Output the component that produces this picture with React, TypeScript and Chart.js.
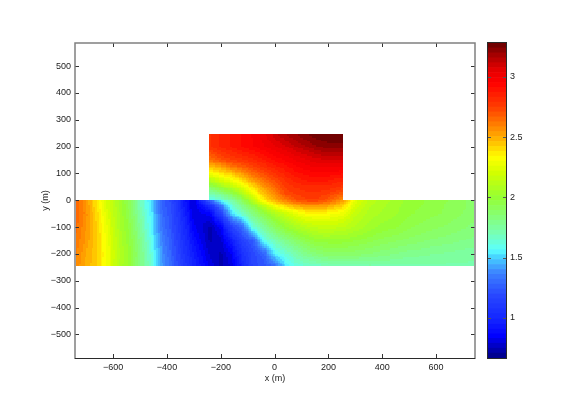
import React, { useEffect, useRef } from "react";
import { Chart, registerables } from "chart.js";

Chart.register(...registerables);

const xTicks = [-600, -400, -200, 0, 200, 400, 600];
const yTicks = [-500, -400, -300, -200, -100, 0, 100, 200, 300, 400, 500];
const barTicks = [1, 1.5, 2, 2.5, 3];

const xRange = [-742, 745];
const yRange = [-588, 586];
const valueRange = [0.668, 3.28];

const xsLower = [-740, -700, -660, -620, -580, -540, -500, -460, -420, -380, -340, -300, -240, -200, -160, -120, -80, -40, 0, 40, 80, 120, 160, 200, 250, 300, 350, 400, 450, 500, 550, 600, 650, 700, 740];
const ysLower = [0, -25, -50, -100, -150, -200, -245];
const lower0 = [2.66, 2.54, 2.37, 2.2, 2.05, 1.91, 1.69, 1.52, 1.28, 1.17, 0.95, 0.78, 1.28, 1.58, 1.72, 1.9, 2.12, 2.36, 2.5, 2.6, 2.7, 2.74, 2.74, 2.68, 2.55, 2.25, 2.12, 2.08, 2.04, 2.0, 1.98, 1.95, 1.93, 1.9, 1.88];
const lower25 = [2.67, 2.55, 2.38, 2.2, 2.06, 1.92, 1.7, 1.53, 1.28, 1.18, 0.97, 0.78, 1.0, 1.28, 1.62, 1.78, 1.93, 2.1, 2.27, 2.38, 2.46, 2.5, 2.5, 2.48, 2.4, 2.2, 2.1, 2.06, 2.03, 1.99, 1.97, 1.95, 1.92, 1.9, 1.88];
const lower50 = [2.67, 2.56, 2.4, 2.22, 2.07, 1.93, 1.73, 1.55, 1.3, 1.19, 1.0, 0.8, 0.85, 1.15, 1.5, 1.66, 1.82, 1.95, 2.07, 2.17, 2.26, 2.33, 2.33, 2.32, 2.28, 2.15, 2.08, 2.05, 2.02, 1.98, 1.96, 1.94, 1.92, 1.89, 1.87];
const lower100 = [2.65, 2.54, 2.42, 2.25, 2.08, 1.96, 1.76, 1.56, 1.33, 1.2, 1.04, 0.84, 0.74, 0.85, 1.15, 1.3, 1.63, 1.76, 1.9, 2.0, 2.07, 2.12, 2.15, 2.16, 2.14, 2.09, 2.04, 2.0, 1.98, 1.94, 1.92, 1.9, 1.88, 1.86, 1.84];
const lower150 = [2.62, 2.53, 2.43, 2.27, 2.1, 1.98, 1.8, 1.6, 1.37, 1.23, 1.06, 0.9, 0.74, 0.78, 0.95, 1.15, 1.25, 1.59, 1.7, 1.8, 1.88, 1.95, 2.0, 2.0, 2.0, 1.98, 1.95, 1.92, 1.9, 1.88, 1.86, 1.84, 1.83, 1.81, 1.8];
const lower200 = [2.6, 2.5, 2.43, 2.28, 2.11, 2.0, 1.82, 1.63, 1.4, 1.25, 1.09, 0.95, 0.78, 0.74, 0.84, 1.05, 1.18, 1.27, 1.55, 1.63, 1.72, 1.8, 1.85, 1.88, 1.88, 1.87, 1.85, 1.83, 1.81, 1.79, 1.78, 1.77, 1.76, 1.75, 1.74];
const lower250 = [2.58, 2.49, 2.42, 2.28, 2.1, 1.99, 1.81, 1.66, 1.42, 1.28, 1.12, 0.98, 0.82, 0.74, 0.8, 1.0, 1.17, 1.22, 1.3, 1.52, 1.62, 1.65, 1.67, 1.69, 1.7, 1.71, 1.72, 1.72, 1.72, 1.72, 1.72, 1.72, 1.72, 1.72, 1.72];
const lowerRows = [lower0, lower25, lower50, lower100, lower150, lower200, lower250];

const xsUpper = [-243, -200, -160, -120, -80, -40, 0, 40, 80, 120, 160, 200, 253];
const ysUpper = [245, 200, 150, 125, 100, 75, 50, 25, 0];
const upper250 = [2.78, 2.84, 2.88, 2.92, 2.96, 3.02, 3.1, 3.16, 3.2, 3.24, 3.27, 3.28, 3.28];
const upper200 = [2.78, 2.84, 2.88, 2.92, 2.95, 2.99, 3.03, 3.07, 3.12, 3.16, 3.2, 3.22, 3.22];
const upper150 = [2.62, 2.7, 2.75, 2.78, 2.82, 2.87, 2.92, 2.96, 3.0, 3.03, 3.06, 3.08, 3.08];
const upper125 = [2.45, 2.52, 2.62, 2.68, 2.74, 2.8, 2.86, 2.9, 2.95, 2.98, 3.0, 3.0, 3.0];
const upper100 = [2.3, 2.38, 2.44, 2.55, 2.65, 2.72, 2.79, 2.85, 2.9, 2.93, 2.94, 2.94, 2.92];
const upper75 = [2.1, 2.22, 2.3, 2.4, 2.54, 2.64, 2.72, 2.8, 2.85, 2.88, 2.88, 2.88, 2.84];
const upper50 = [1.9, 2.03, 2.14, 2.26, 2.4, 2.55, 2.66, 2.76, 2.8, 2.82, 2.82, 2.82, 2.78];
const upper25 = [1.7, 1.8, 1.92, 2.08, 2.28, 2.46, 2.58, 2.72, 2.76, 2.78, 2.78, 2.75, 2.68];
const upper0 = [1.56, 1.62, 1.74, 1.9, 2.12, 2.36, 2.5, 2.6, 2.7, 2.74, 2.74, 2.68, 2.55];
const upperRows = [upper250, upper200, upper150, upper125, upper100, upper75, upper50, upper25, upper0];

const cmapValues = [0.668, 0.85, 1.0, 1.18, 1.37, 1.5, 1.56, 1.7, 2.0, 2.2, 2.33, 2.5, 2.75, 2.95, 3.05, 3.17, 3.28];
const cmapColors = [
  [0, 0, 130], [0, 0, 255], [20, 40, 255], [40, 70, 255], [60, 130, 255], [70, 210, 255], [90, 255, 255], [120, 255, 180],
  [150, 255, 50], [210, 255, 0], [255, 255, 0], [255, 170, 0], [255, 60, 0], [255, 0, 0], [230, 0, 0], [170, 0, 0], [100, 0, 0],
];
const levels = 64;

function colorOf(v: number): string {
  const t = Math.max(0, Math.min(0.9999, (v - valueRange[0]) / (valueRange[1] - valueRange[0])));
  const q = valueRange[0] + ((Math.floor(t * levels) + 0.5) / levels) * (valueRange[1] - valueRange[0]);
  let i = 0;
  while (i < cmapValues.length - 2 && q > cmapValues[i + 1]) i++;
  const f = Math.max(0, Math.min(1, (q - cmapValues[i]) / (cmapValues[i + 1] - cmapValues[i])));
  const c = cmapColors[i].map((a, k) => Math.round(a + (cmapColors[i + 1][k] - a) * f));
  return `rgb(${c[0]},${c[1]},${c[2]})`;
}

function gridPoints(xs: number[], ys: number[], rows: number[][]) {
  return ys.flatMap((y, j) => xs.map((x, i) => ({ x, y, v: rows[j][i] })));
}

function shade(chart: any, xs: number[], ys: number[], rows: number[][]) {
  const { ctx, scales } = chart;
  const sx = scales.x;
  const sy = scales.y;
  for (let j = 0; j < ys.length - 1; j++) {
    for (let i = 0; i < xs.length - 1; i++) {
      const x0 = sx.getPixelForValue(xs[i]);
      const x1 = sx.getPixelForValue(xs[i + 1]);
      const y0 = sy.getPixelForValue(ys[j]);
      const y1 = sy.getPixelForValue(ys[j + 1]);
      const nx = Math.max(1, Math.ceil((x1 - x0) / 2));
      const ny = Math.max(1, Math.ceil((y1 - y0) / 2));
      for (let a = 0; a < nx; a++) {
        for (let b = 0; b < ny; b++) {
          const u = (a + 0.5) / nx;
          const w = (b + 0.5) / ny;
          const v =
            rows[j][i] * (1 - u) * (1 - w) + rows[j][i + 1] * u * (1 - w) + rows[j + 1][i] * (1 - u) * w + rows[j + 1][i + 1] * u * w;
          ctx.fillStyle = colorOf(v);
          const l = Math.round(x0 + ((x1 - x0) * a) / nx);
          const r = Math.round(x0 + ((x1 - x0) * (a + 1)) / nx);
          const t = Math.round(y0 + ((y1 - y0) * b) / ny);
          const e = Math.round(y0 + ((y1 - y0) * (b + 1)) / ny);
          ctx.fillRect(l, t, r - l, e - t);
        }
      }
    }
  }
}

const fieldPlugin = {
  id: "field",
  beforeDatasetsDraw(chart: any) {
    shade(chart, xsLower, ysLower, lowerRows);
    shade(chart, xsUpper, ysUpper, upperRows);
  },
  afterDatasetsDraw(chart: any) {
    const { ctx, chartArea: a, scales } = chart;
    ctx.save();
    ctx.strokeStyle = "#333";
    ctx.lineWidth = 1;
    ctx.beginPath();
    xTicks.forEach((v) => {
      const p = Math.round(scales.x.getPixelForValue(v)) + 0.5;
      ctx.moveTo(p, a.bottom);
      ctx.lineTo(p, a.bottom - 4);
      ctx.moveTo(p, a.top);
      ctx.lineTo(p, a.top + 4);
    });
    yTicks.forEach((v) => {
      const p = Math.round(scales.y.getPixelForValue(v)) + 0.5;
      ctx.moveTo(a.left, p);
      ctx.lineTo(a.left + 4, p);
      ctx.moveTo(a.right, p);
      ctx.lineTo(a.right - 4, p);
    });
    ctx.stroke();
    ctx.strokeStyle = "#808080";
    ctx.lineWidth = 1.5;
    ctx.beginPath();
    ctx.moveTo(a.left, a.bottom);
    ctx.lineTo(a.left, a.top);
    ctx.lineTo(a.right, a.top);
    ctx.lineTo(a.right, a.bottom);
    ctx.stroke();
    ctx.strokeStyle = "#2a2a2a";
    ctx.lineWidth = 1;
    ctx.beginPath();
    ctx.moveTo(a.left - 0.5, a.bottom + 0.5);
    ctx.lineTo(a.right + 0.5, a.bottom + 0.5);
    ctx.stroke();
    ctx.restore();
  },
};

const barFramePlugin = {
  id: "barFrame",
  afterDatasetsDraw(chart: any) {
    const { ctx, chartArea: a, scales } = chart;
    ctx.save();
    ctx.strokeStyle = "#555";
    ctx.lineWidth = 1;
    ctx.beginPath();
    barTicks.forEach((v) => {
      const p = Math.round(scales.y.getPixelForValue(v)) + 0.5;
      ctx.moveTo(a.left, p);
      ctx.lineTo(a.left + 3, p);
      ctx.moveTo(a.right, p);
      ctx.lineTo(a.right - 3, p);
    });
    ctx.stroke();
    ctx.strokeStyle = "#2a2a2a";
    ctx.lineWidth = 1;
    ctx.strokeRect(a.left - 0.5, a.top - 0.5, a.right - a.left + 1, a.bottom - a.top + 1);
    ctx.restore();
  },
};

const fontSpec = { family: "'Liberation Sans', Arial, sans-serif", size: 9 };
const textColor = "#222";
const minus = (v: number) => String(v).replace("-", "\u2212");

export default function App() {
  const mainRef = useRef<HTMLCanvasElement>(null);
  const barRef = useRef<HTMLCanvasElement>(null);

  useEffect(() => {
    const main = new Chart(mainRef.current as any, {
      type: "scatter",
      data: {
        datasets: [
          { label: "lower", data: gridPoints(xsLower, ysLower, lowerRows), pointRadius: 0 },
          { label: "upper", data: gridPoints(xsUpper, ysUpper, upperRows), pointRadius: 0 },
        ],
      },
      options: {
        animation: false,
        responsive: false,
        devicePixelRatio: 1,
        layout: { padding: { top: 43, right: 101, left: 0, bottom: 0 } },
        plugins: { legend: { display: false }, tooltip: { enabled: false } },
        scales: {
          x: {
            type: "linear",
            min: xRange[0],
            max: xRange[1],
            border: { display: false },
            grid: { display: false, drawTicks: false },
            afterBuildTicks: (s: any) => {
              s.ticks = xTicks.map((value) => ({ value }));
            },
            afterFit: (s: any) => {
              s.height = 59;
            },
            ticks: { autoSkip: false, maxRotation: 0, padding: 4, color: textColor, font: fontSpec, callback: (v: any) => minus(v) },
            title: { display: true, text: "x (m)", color: textColor, font: fontSpec, padding: { top: 0, bottom: 33 } },
          },
          y: {
            type: "linear",
            min: yRange[0],
            max: yRange[1],
            border: { display: false },
            grid: { display: false, drawTicks: false },
            afterBuildTicks: (s: any) => {
              s.ticks = yTicks.map((value) => ({ value }));
            },
            afterFit: (s: any) => {
              s.width = 75;
            },
            ticks: { autoSkip: false, padding: 4, color: textColor, font: fontSpec, callback: (v: any) => minus(v) },
            title: { display: true, text: "y (m)", color: textColor, font: fontSpec, padding: { top: 40, bottom: 40 } },
          },
        },
      } as any,
      plugins: [fieldPlugin],
    });

    const step = (valueRange[1] - valueRange[0]) / levels;
    const bands = Array.from({ length: levels }, (_, k) => valueRange[0] + k * step);
    const bar = new Chart(barRef.current as any, {
      type: "bar",
      data: {
        labels: ["bar"],
        datasets: bands.map((lo) => ({
          data: [[lo, lo + step]],
          backgroundColor: colorOf(lo + step / 2),
          barPercentage: 1,
          categoryPercentage: 1,
          grouped: false,
          borderWidth: 0,
        })),
      } as any,
      options: {
        animation: false,
        responsive: false,
        devicePixelRatio: 1,
        layout: { padding: { top: 43, bottom: 59, left: 18, right: 0 } },
        plugins: { legend: { display: false }, tooltip: { enabled: false } },
        scales: {
          x: { display: false, grid: { display: false } },
          y: {
            position: "right",
            min: valueRange[0],
            max: valueRange[1],
            border: { display: false },
            grid: { display: false, drawTicks: false },
            afterBuildTicks: (s: any) => {
              s.ticks = barTicks.map((value) => ({ value }));
            },
            afterFit: (s: any) => {
              s.width = 70;
            },
            ticks: { autoSkip: false, padding: 4, color: textColor, font: fontSpec, callback: (v: any) => String(v) },
          },
        },
      } as any,
      plugins: [barFramePlugin],
    });

    return () => {
      main.destroy();
      bar.destroy();
    };
  }, []);

  return (
    <div style={{ position: "fixed", left: 0, top: 0, width: 576, height: 417, background: "#fff" }}>
      <canvas ref={mainRef} width={576} height={417} style={{ position: "absolute", left: 0, top: 0 }} />
      <canvas ref={barRef} width={106} height={417} style={{ position: "absolute", left: 470, top: 0 }} />
    </div>
  );
}
